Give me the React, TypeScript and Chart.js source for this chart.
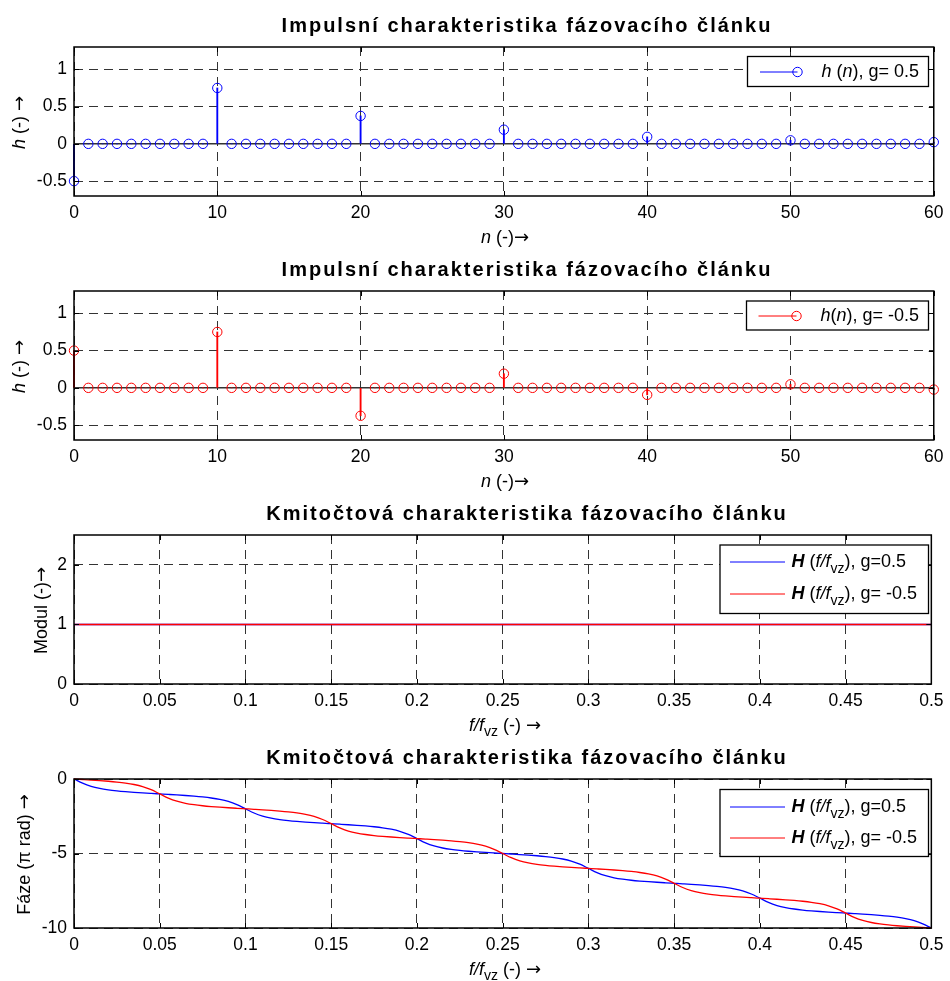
import React, { useEffect, useRef } from 'react';
import { Chart, registerables } from 'chart.js';

Chart.register(...registerables);

const FONT = '"Liberation Sans", Arial, Helvetica, sans-serif';
const ARROW_FONT = '"DejaVu Sans ExtraLight", "DejaVu Sans", sans-serif';
const BLUE = '#0000ff';
const RED = '#ff0000';

// ---------- data ----------
const nIdx = [
  0, 1, 2, 3, 4, 5, 6, 7, 8, 9,
  10, 11, 12, 13, 14, 15, 16, 17, 18, 19,
  20, 21, 22, 23, 24, 25, 26, 27, 28, 29,
  30, 31, 32, 33, 34, 35, 36, 37, 38, 39,
  40, 41, 42, 43, 44, 45, 46, 47, 48, 49,
  50, 51, 52, 53, 54, 55, 56, 57, 58, 59,
  60,
];
const hPos = [
  -0.5, 0, 0, 0, 0, 0, 0, 0, 0, 0,
  0.75, 0, 0, 0, 0, 0, 0, 0, 0, 0,
  0.375, 0, 0, 0, 0, 0, 0, 0, 0, 0,
  0.19, 0, 0, 0, 0, 0, 0, 0, 0, 0,
  0.094, 0, 0, 0, 0, 0, 0, 0, 0, 0,
  0.047, 0, 0, 0, 0, 0, 0, 0, 0, 0,
  0.023,
];
const hNeg = [
  0.5, 0, 0, 0, 0, 0, 0, 0, 0, 0,
  0.75, 0, 0, 0, 0, 0, 0, 0, 0, 0,
  -0.375, 0, 0, 0, 0, 0, 0, 0, 0, 0,
  0.19, 0, 0, 0, 0, 0, 0, 0, 0, 0,
  -0.094, 0, 0, 0, 0, 0, 0, 0, 0, 0,
  0.047, 0, 0, 0, 0, 0, 0, 0, 0, 0,
  -0.023,
];
const nTicks = [0, 10, 20, 30, 40, 50, 60];
const hTicks = [-0.5, 0, 0.5, 1];

const fMag = [0, 0.05, 0.1, 0.15, 0.2, 0.25, 0.3, 0.35, 0.4, 0.45, 0.5];
const magPos = [1, 1, 1, 1, 1, 1, 1, 1, 1, 1, 1];
const magNeg = [1, 1, 1, 1, 1, 1, 1, 1, 1, 1, 1];
const modTicks = [0, 1, 2];
const fTicks = [0, 0.05, 0.1, 0.15, 0.2, 0.25, 0.3, 0.35, 0.4, 0.45, 0.5];

const fPhase = [
  0, 0.005, 0.01, 0.015, 0.02, 0.025, 0.03, 0.035, 0.04, 0.045,
  0.05, 0.055, 0.06, 0.065, 0.07, 0.075, 0.08, 0.085, 0.09, 0.095,
  0.1, 0.105, 0.11, 0.115, 0.12, 0.125, 0.13, 0.135, 0.14, 0.145,
  0.15, 0.155, 0.16, 0.165, 0.17, 0.175, 0.18, 0.185, 0.19, 0.195,
  0.2, 0.205, 0.21, 0.215, 0.22, 0.225, 0.23, 0.235, 0.24, 0.245,
  0.25, 0.255, 0.26, 0.265, 0.27, 0.275, 0.28, 0.285, 0.29, 0.295,
  0.3, 0.305, 0.31, 0.315, 0.32, 0.325, 0.33, 0.335, 0.34, 0.345,
  0.35, 0.355, 0.36, 0.365, 0.37, 0.375, 0.38, 0.385, 0.39, 0.395,
  0.4, 0.405, 0.41, 0.415, 0.42, 0.425, 0.43, 0.435, 0.44, 0.445,
  0.45, 0.455, 0.46, 0.465, 0.47, 0.475, 0.48, 0.485, 0.49, 0.495,
  0.5,
];
const phasePos = [
  0, -0.283, -0.492, -0.631, -0.726, -0.795, -0.849, -0.893, -0.931, -0.966,
  -1, -1.034, -1.069, -1.107, -1.151, -1.205, -1.274, -1.369, -1.508, -1.718,
  -2, -2.283, -2.492, -2.631, -2.726, -2.795, -2.849, -2.893, -2.931, -2.966,
  -3, -3.034, -3.069, -3.107, -3.151, -3.205, -3.274, -3.369, -3.508, -3.718,
  -4, -4.283, -4.492, -4.631, -4.726, -4.795, -4.849, -4.893, -4.931, -4.966,
  -5, -5.034, -5.069, -5.107, -5.151, -5.205, -5.274, -5.369, -5.508, -5.718,
  -6, -6.283, -6.492, -6.631, -6.726, -6.795, -6.849, -6.893, -6.931, -6.966,
  -7, -7.034, -7.069, -7.107, -7.151, -7.205, -7.274, -7.369, -7.508, -7.718,
  -8, -8.283, -8.492, -8.631, -8.726, -8.795, -8.849, -8.893, -8.931, -8.966,
  -9, -9.034, -9.069, -9.107, -9.151, -9.205, -9.274, -9.369, -9.508, -9.718,
  -10,
];
const phaseNeg = [
  0, -0.034, -0.069, -0.107, -0.151, -0.205, -0.274, -0.369, -0.508, -0.718,
  -1, -1.283, -1.492, -1.631, -1.726, -1.795, -1.849, -1.893, -1.931, -1.966,
  -2, -2.034, -2.069, -2.107, -2.151, -2.205, -2.274, -2.369, -2.508, -2.718,
  -3, -3.283, -3.492, -3.631, -3.726, -3.795, -3.849, -3.893, -3.931, -3.966,
  -4, -4.034, -4.069, -4.107, -4.151, -4.205, -4.274, -4.369, -4.508, -4.718,
  -5, -5.283, -5.492, -5.631, -5.726, -5.795, -5.849, -5.893, -5.931, -5.966,
  -6, -6.034, -6.069, -6.107, -6.151, -6.205, -6.274, -6.369, -6.508, -6.718,
  -7, -7.283, -7.492, -7.631, -7.726, -7.795, -7.849, -7.893, -7.931, -7.966,
  -8, -8.034, -8.069, -8.107, -8.151, -8.205, -8.274, -8.369, -8.508, -8.718,
  -9, -9.283, -9.492, -9.631, -9.726, -9.795, -9.849, -9.893, -9.931, -9.966,
  -10,
];
const phaseTicks = [-10, -5, 0];

const titleImpulse = 'Impulsní charakteristika fázovacího článku';
const titleFreq = 'Kmitočtová charakteristika fázovacího článku';

// ---------- rich text helpers ----------
type Run = { t: string; i?: boolean; b?: boolean; sub?: boolean; arrow?: boolean };

function runFont(r: Run, size: number) {
  const s = r.sub ? size * 0.78 : size;
  const fam = r.arrow ? ARROW_FONT : FONT;
  return `${r.i ? 'italic ' : ''}${r.b ? 'bold ' : ''}${s}px ${fam}`;
}
function runsWidth(ctx: CanvasRenderingContext2D, runs: Run[], size: number) {
  let w = 0;
  for (const r of runs) {
    ctx.font = runFont(r, size);
    w += ctx.measureText(r.t).width;
  }
  return w;
}
function drawRuns(
  ctx: CanvasRenderingContext2D,
  runs: Run[],
  x: number,
  y: number,
  size: number,
  align: 'left' | 'center'
) {
  ctx.textAlign = 'left';
  ctx.textBaseline = 'alphabetic';
  const w = runsWidth(ctx, runs, size);
  let cx = align === 'center' ? x - w / 2 : x;
  const base = y + size * 0.36;
  for (const r of runs) {
    ctx.font = runFont(r, size);
    ctx.fillText(r.t, cx, r.sub ? base + size * 0.3 : base);
    cx += ctx.measureText(r.t).width;
  }
}

type LegendItem = { color: string; marker: boolean; lx0: number; lx1: number; tx: number; y: number; runs: Run[] };
type PanelCfg = {
  canvasHeight: number;
  title: string;
  xTitle: Run[];
  yTitle: Run[];
  yTitleX: number;
  xMin: number;
  xMax: number;
  xTicks: number[];
  yMin: number;
  yMax: number;
  yTicks: number[];
  datasets: any[];
  legend: { box: [number, number, number, number]; items: LegendItem[] };
};

const fmt = (v: number) => String(Math.round(v * 10000) / 10000);
const MARKER_R = 4.7;

function makeDecor(cfg: PanelCfg) {
  return {
    id: 'decor',
    afterDraw(chart: any) {
      const { ctx, chartArea: a, scales } = chart;
      const xs = scales.x;
      const ys = scales.y;
      ctx.save();
      ctx.setLineDash([]);
      // inward tick marks
      ctx.strokeStyle = '#000';
      ctx.lineWidth = 1;
      ctx.beginPath();
      for (const v of cfg.xTicks) {
        const px = Math.round(xs.getPixelForValue(v)) + 0.5;
        ctx.moveTo(px, a.bottom);
        ctx.lineTo(px, a.bottom - 5);
        ctx.moveTo(px, a.top);
        ctx.lineTo(px, a.top + 5);
      }
      for (const v of cfg.yTicks) {
        const py = Math.round(ys.getPixelForValue(v)) + 0.5;
        ctx.moveTo(a.left, py);
        ctx.lineTo(a.left + 5, py);
        ctx.moveTo(a.right, py);
        ctx.lineTo(a.right - 5, py);
      }
      ctx.stroke();
      // axes box
      ctx.lineWidth = 1.5;
      ctx.strokeRect(a.left, a.top, a.right - a.left, a.bottom - a.top);
      // title
      ctx.fillStyle = '#000';
      ctx.font = `bold 20px ${FONT}`;
      ctx.letterSpacing = '2px';
      const tw = ctx.measureText(cfg.title).width - 2;
      ctx.textAlign = 'left';
      ctx.textBaseline = 'alphabetic';
      ctx.fillText(cfg.title, 526 - tw / 2, 32);
      ctx.letterSpacing = '0px';
      // axis titles
      drawRuns(ctx, cfg.xTitle, 505, 236.5, 18, 'center');
      ctx.save();
      ctx.translate(cfg.yTitleX, (a.top + a.bottom) / 2 + 1);
      ctx.rotate(-Math.PI / 2);
      drawRuns(ctx, cfg.yTitle, 0, 0, 18, 'center');
      ctx.restore();
      // legend
      const [x0, y0, x1, y1] = cfg.legend.box;
      ctx.fillStyle = '#fff';
      ctx.fillRect(x0, y0, x1 - x0, y1 - y0);
      ctx.strokeStyle = '#000';
      ctx.lineWidth = 1.3;
      ctx.strokeRect(x0, y0, x1 - x0, y1 - y0);
      for (const it of cfg.legend.items) {
        ctx.strokeStyle = it.color;
        ctx.lineWidth = 1;
        ctx.beginPath();
        ctx.moveTo(it.lx0, it.y);
        ctx.lineTo(it.lx1, it.y);
        ctx.stroke();
        if (it.marker) {
          ctx.beginPath();
          ctx.arc(it.lx1, it.y, MARKER_R, 0, Math.PI * 2);
          ctx.stroke();
        }
        ctx.fillStyle = '#000';
        drawRuns(ctx, it.runs, it.tx, it.y - 1, 18, 'left');
      }
      ctx.restore();
    },
  };
}

function stemDatasets(values: number[], color: string, xMin: number, xMax: number) {
  const pts = nIdx.map((n, i) => ({ x: n, y: values[i] }));
  return [
    {
      type: 'line',
      data: [{ x: xMin, y: 0 }, { x: xMax, y: 0 }],
      borderColor: '#333',
      borderWidth: 1.5,
      pointRadius: 0,
      order: 3,
      clip: false,
    },
    {
      type: 'bar',
      data: pts,
      backgroundColor: color,
      borderWidth: 0,
      barThickness: 1.2,
      grouped: false,
      order: 2,
      clip: false,
    },
    {
      type: 'scatter',
      data: pts,
      pointRadius: MARKER_R,
      pointBorderWidth: 1,
      pointBorderColor: color,
      pointBackgroundColor: 'rgba(0,0,0,0)',
      order: 1,
      clip: false,
    },
  ];
}

const ARROW: Run = { t: '→', arrow: true };
const yTitleH: Run[] = [{ t: 'h', i: true }, { t: ' (-) ' }, ARROW];
const xTitleN: Run[] = [{ t: 'n', i: true }, { t: ' (-)' }, ARROW];
const xTitleF: Run[] = [{ t: 'f/f', i: true }, { t: 'vz', sub: true }, { t: ' (-) ' }, ARROW];

const legendH = (g: string): Run[] => [
  { t: 'H', b: true, i: true },
  { t: ' (' },
  { t: 'f/f', i: true },
  { t: 'vz', sub: true },
  { t: '), ' + g },
];

const panels: PanelCfg[] = [
  {
    canvasHeight: 262,
    title: titleImpulse,
    xTitle: xTitleN,
    yTitle: yTitleH,
    yTitleX: 19,
    xMin: 0,
    xMax: 60,
    xTicks: nTicks,
    yMin: -0.7,
    yMax: 1.3,
    yTicks: hTicks,
    datasets: stemDatasets(hPos, BLUE, 0, 60),
    legend: {
      box: [747.5, 56.5, 928.5, 86.5],
      items: [
        {
          color: BLUE,
          marker: true,
          lx0: 760,
          lx1: 797.5,
          tx: 821.5,
          y: 72,
          runs: [{ t: 'h', i: true }, { t: ' (' }, { t: 'n', i: true }, { t: '), g= 0.5' }],
        },
      ],
    },
  },
  {
    canvasHeight: 262,
    title: titleImpulse,
    xTitle: xTitleN,
    yTitle: yTitleH,
    yTitleX: 19,
    xMin: 0,
    xMax: 60,
    xTicks: nTicks,
    yMin: -0.7,
    yMax: 1.3,
    yTicks: hTicks,
    datasets: stemDatasets(hNeg, RED, 0, 60),
    legend: {
      box: [746.5, 57, 928.5, 86],
      items: [
        {
          color: RED,
          marker: true,
          lx0: 758.5,
          lx1: 796.5,
          tx: 820.5,
          y: 72,
          runs: [{ t: 'h', i: true }, { t: '(' }, { t: 'n', i: true }, { t: '), g= -0.5' }],
        },
      ],
    },
  },
  {
    canvasHeight: 262,
    title: titleFreq,
    xTitle: xTitleF,
    yTitle: [{ t: 'Modul (-)' }, ARROW],
    yTitleX: 41,
    xMin: 0,
    xMax: 0.5,
    xTicks: fTicks,
    yMin: 0,
    yMax: 2.5,
    yTicks: modTicks,
    datasets: [
      {
        type: 'line',
        data: fMag.map((f, i) => ({ x: f, y: magNeg[i] })),
        borderColor: RED,
        borderWidth: 1.5,
        pointRadius: 0,
        order: 0,
        clip: false,
      },
      {
        type: 'line',
        data: fMag.map((f, i) => ({ x: f, y: magPos[i] })),
        borderColor: BLUE,
        borderWidth: 1.5,
        pointRadius: 0,
        order: 1,
        clip: false,
      },
    ],
    legend: {
      box: [720, 57, 928.5, 125.5],
      items: [
        { color: BLUE, marker: false, lx0: 730, lx1: 785, tx: 791.5, y: 74, runs: legendH('g=0.5') },
        { color: RED, marker: false, lx0: 730, lx1: 785, tx: 791.5, y: 106, runs: legendH('g= -0.5') },
      ],
    },
  },
  {
    canvasHeight: 249,
    title: titleFreq,
    xTitle: xTitleF,
    yTitle: [{ t: 'Fáze (π rad) ' }, ARROW],
    yTitleX: 24,
    xMin: 0,
    xMax: 0.5,
    xTicks: fTicks,
    yMin: -10,
    yMax: 0,
    yTicks: phaseTicks,
    datasets: [
      {
        type: 'line',
        data: fPhase.map((f, i) => ({ x: f, y: phaseNeg[i] })),
        borderColor: RED,
        borderWidth: 1.3,
        pointRadius: 0,
        cubicInterpolationMode: 'monotone',
        order: 0,
        clip: false,
      },
      {
        type: 'line',
        data: fPhase.map((f, i) => ({ x: f, y: phasePos[i] })),
        borderColor: BLUE,
        borderWidth: 1.3,
        pointRadius: 0,
        cubicInterpolationMode: 'monotone',
        order: 1,
        clip: false,
      },
    ],
    legend: {
      box: [720, 57.5, 928.5, 124.5],
      items: [
        { color: BLUE, marker: false, lx0: 730, lx1: 785, tx: 791.5, y: 75, runs: legendH('g=0.5') },
        { color: RED, marker: false, lx0: 730, lx1: 785, tx: 791.5, y: 106, runs: legendH('g= -0.5') },
      ],
    },
  },
];

const AREA_TOP = 47;
const AREA_BOTTOM = 196;
const AREA_LEFT = 74;
const AREA_RIGHT_PAD = 12;

function Panel({ cfg, top }: { cfg: PanelCfg; top: number }) {
  const ref = useRef<HTMLCanvasElement | null>(null);
  useEffect(() => {
    if (!ref.current) return;
    const tickFont = { family: FONT, size: 17.5 };
    const chart = new Chart(ref.current, {
      type: 'scatter',
      data: { datasets: cfg.datasets as any },
      options: {
        animation: false,
        responsive: false,
        devicePixelRatio: 1,
        events: [],
        layout: { padding: { left: 0, right: AREA_RIGHT_PAD, top: AREA_TOP, bottom: 0 } },
        plugins: { legend: { display: false }, tooltip: { enabled: false }, title: { display: false } },
        scales: {
          x: {
            type: 'linear',
            min: cfg.xMin,
            max: cfg.xMax,
            offset: false,
            afterBuildTicks: (s: any) => {
              s.ticks = cfg.xTicks.map((v) => ({ value: v }));
            },
            afterFit: (s: any) => {
              s.height = cfg.canvasHeight - AREA_BOTTOM;
            },
            ticks: {
              font: tickFont,
              color: '#000',
              padding: 6.5,
              autoSkip: false,
              maxRotation: 0,
              minRotation: 0,
              callback: (v: any) => fmt(Number(v)),
            },
            grid: { color: '#333', lineWidth: 1, drawTicks: false, offset: false },
            border: { display: false, dash: [9, 6] },
          },
          y: {
            type: 'linear',
            min: cfg.yMin,
            max: cfg.yMax,
            afterBuildTicks: (s: any) => {
              s.ticks = cfg.yTicks.map((v) => ({ value: v }));
            },
            afterFit: (s: any) => {
              s.width = AREA_LEFT;
            },
            ticks: {
              font: tickFont,
              color: '#000',
              padding: 7,
              autoSkip: false,
              callback: (v: any) => fmt(Number(v)),
            },
            grid: { color: '#333', lineWidth: 1, drawTicks: false, offset: false },
            border: { display: false, dash: [9, 6] },
          },
        },
      } as any,
      plugins: [makeDecor(cfg) as any],
    });
    return () => chart.destroy();
  }, [cfg]);
  return (
    <canvas
      ref={ref}
      width={950}
      height={cfg.canvasHeight}
      style={{ position: 'absolute', left: 0, top, width: 950, height: cfg.canvasHeight, display: 'block' }}
    />
  );
}

export default function App() {
  const tops = [0, 244, 488, 732];
  return (
    <div
      style={{
        position: 'absolute',
        left: 0,
        top: 0,
        width: 950,
        height: 981,
        background: '#fff',
        overflow: 'hidden',
      }}
    >
      {panels.map((p, i) => (
        <Panel key={i} cfg={p} top={tops[i]} />
      ))}
    </div>
  );
}
